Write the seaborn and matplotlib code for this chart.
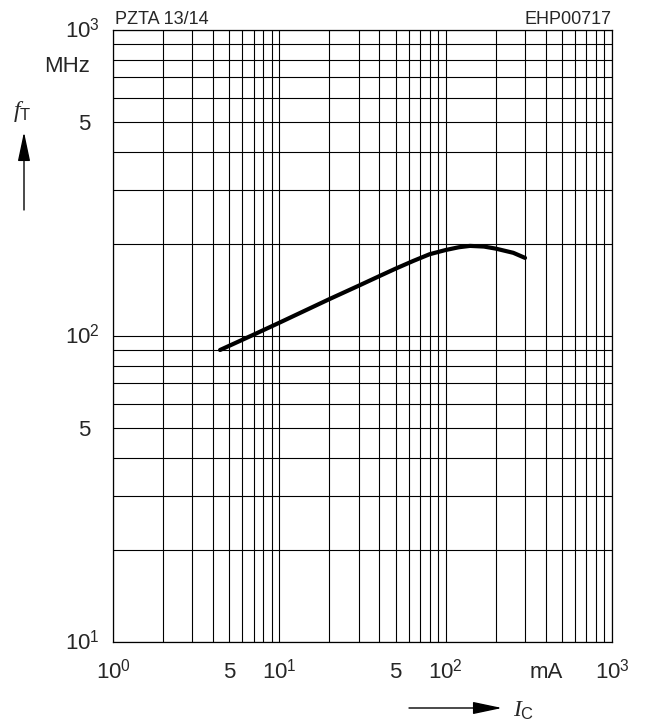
import numpy as np
import pandas as pd
import seaborn as sns
import matplotlib
matplotlib.use("Agg")
import matplotlib.pyplot as plt
from matplotlib import transforms
from matplotlib.ticker import LogLocator, NullFormatter

# ---- data ----
ic_mA = [4.4, 7, 10, 20, 30, 40, 50, 64, 80, 100, 120, 140, 170, 200, 255, 300]
ft_MHz = [90, 101, 110.5, 132, 146, 157, 166, 176, 185, 191, 195, 197, 196, 193, 187, 180]

x_tick_vals = [1, 5, 10, 50, 100, 1000]
x_tick_labels = [r"$10^0$", "5", r"$10^1$", "5", r"$10^2$", r"$10^3$"]
y_tick_vals = [10, 50, 100, 500, 1000]
y_tick_labels = [r"$10^1$", "5", r"$10^2$", "5", r"$10^3$"]

sns.set_theme(style="white")
plt.rcParams["font.family"] = ["Liberation Sans", "DejaVu Sans"]
plt.rcParams["mathtext.fontset"] = "custom"
plt.rcParams["mathtext.rm"] = "Liberation Sans"
plt.rcParams["mathtext.it"] = "Liberation Serif:italic"
plt.rcParams["mathtext.bf"] = "Liberation Sans:bold"

W, H = 650, 725
fig = plt.figure(figsize=(W / 100, H / 100), dpi=100)
L, R, T, B = 113, 612, 30, 642
ax = fig.add_axes([L / W, 1 - B / H, (R - L) / W, (B - T) / H])

df = pd.DataFrame({"I": ic_mA, "f": ft_MHz})
sns.lineplot(data=df, x="I", y="f", ax=ax, color="black", linewidth=3.0,
             solid_capstyle="round", solid_joinstyle="round", zorder=5)

ax.set_xscale("log")
ax.set_yscale("log")
ax.set_xlim(1, 1000)
ax.set_ylim(10, 1000)

# full log grid
ax.xaxis.set_major_locator(LogLocator(base=10, numticks=10))
ax.xaxis.set_minor_locator(LogLocator(base=10, subs=np.arange(2, 10), numticks=40))
ax.yaxis.set_major_locator(LogLocator(base=10, numticks=10))
ax.yaxis.set_minor_locator(LogLocator(base=10, subs=np.arange(2, 10), numticks=40))
ax.xaxis.set_major_formatter(NullFormatter())
ax.xaxis.set_minor_formatter(NullFormatter())
ax.yaxis.set_major_formatter(NullFormatter())
ax.yaxis.set_minor_formatter(NullFormatter())
ax.tick_params(which="both", length=0)
ax.grid(True, which="both", color="black", linewidth=0.8)
for s in ax.spines.values():
    s.set_color("black")
    s.set_linewidth(0.9)
ax.set_xlabel("")
ax.set_ylabel("")

fs = 16
# x tick labels
tx = transforms.blended_transform_factory(ax.transData, ax.transAxes)
tx_off = transforms.offset_copy(tx, fig=fig, x=0, y=-26, units="points")
for v, lab in zip(x_tick_vals, x_tick_labels):
    ax.text(v, 0, lab, transform=tx_off, ha="center", va="baseline", fontsize=fs)
ax.text(400, 0, "mA", transform=tx_off, ha="center", va="baseline", fontsize=fs)

# y tick labels
ty = transforms.blended_transform_factory(ax.transAxes, ax.transData)
for v, lab in zip(y_tick_vals, y_tick_labels):
    dx = -9.4 if lab.startswith("$") else -16.6
    off = transforms.offset_copy(ty, fig=fig, x=dx, y=-5.7, units="points")
    ax.text(0, v, lab, transform=off, ha="right", va="baseline", fontsize=fs)
off = transforms.offset_copy(ty, fig=fig, x=-16.6, y=-5.7, units="points")
ax.text(0, 774, "MHz", transform=off, ha="right", va="baseline", fontsize=fs)

# header texts
fig.text(115 / W, 1 - 24 / H, "PZTA 13/14", ha="left", va="baseline", fontsize=13)
fig.text(612 / W, 1 - 24 / H, "EHP00717", ha="right", va="baseline", fontsize=13)

# axis quantity labels with arrows
fig.text(13 / W, 1 - 117 / H, r"$f_{\mathrm{T}}$", ha="left", va="baseline", fontsize=17)
fig.text(513 / W, 1 - 717 / H, r"$I_{\mathrm{C}}$", ha="left", va="baseline", fontsize=17)
arrow_style = "-|>,head_length=1.8,head_width=0.38"
ax.annotate("", xy=(24 / W, 1 - 132 / H), xytext=(24 / W, 1 - 210 / H),
            xycoords="figure fraction", textcoords="figure fraction",
            arrowprops=dict(arrowstyle=arrow_style, mutation_scale=10,
                            lw=1.0, color="black", shrinkA=0, shrinkB=0))
ax.annotate("", xy=(502 / W, 1 - 708 / H), xytext=(409 / W, 1 - 708 / H),
            xycoords="figure fraction", textcoords="figure fraction",
            arrowprops=dict(arrowstyle=arrow_style, mutation_scale=10,
                            lw=1.0, color="black", shrinkA=0, shrinkB=0))

fig.savefig("out.png", dpi=100)
